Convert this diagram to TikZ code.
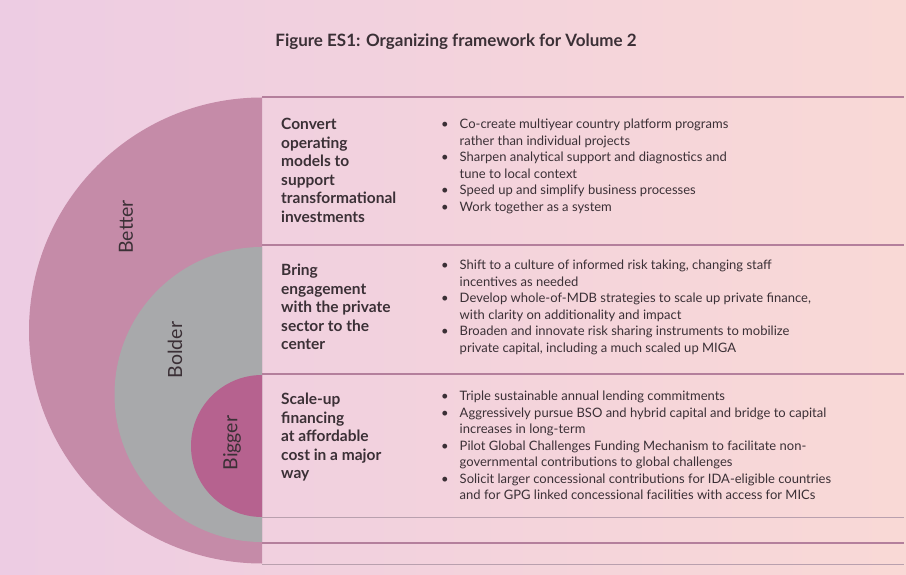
\documentclass[tikz,border=0pt]{standalone}
\usepackage{fontspec}
\setmainfont{Lato}
\definecolor{bgleft}{HTML}{EDCCE3}
\definecolor{bgright}{HTML}{F9D9D6}
\definecolor{better}{HTML}{C58BA8}
\definecolor{bolder}{HTML}{A8A9AB}
\definecolor{bigger}{HTML}{B6628F}
\definecolor{rule}{HTML}{B47F9C}
\definecolor{rulegray}{HTML}{B9A0AE}
\definecolor{ink}{HTML}{3B3036}
\begin{document}
\begin{tikzpicture}[x=1pt,y=-1pt,
    heading/.style={anchor=north west,align=left,text=ink,inner sep=0pt,font=\fontsize{15.5}{18.5}\selectfont\bfseries},
    points/.style={anchor=north west,text=ink,inner sep=0pt,font=\fontsize{13}{16.5}\selectfont},
    ring/.style={text=ink,rotate=90,font=\fontsize{19.5}{22}\selectfont}]
        \shade[left color=bgleft, right color=bgright] (0,0) rectangle (906,575);
        \node[text=ink,font=\fontsize{17}{20}\selectfont\bfseries] (title) at (456,42) {Figure ES1: Organizing framework for Volume 2};
		% half discs
		\fill[better] (262,97.5) arc[start angle=270, end angle=90, radius=233] -- cycle;
		\fill[bolder] (262,247) arc[start angle=270, end angle=90, radius=147.5] -- cycle;
		\fill[bigger] (262,375) arc[start angle=270, end angle=90, radius=71] -- cycle;
		% row rules
		\draw[rule, line width=1.4pt] (262,97) -- (904,97);
		\draw[rule, line width=1.2pt] (262,245) -- (904,245);
		\draw[rule, line width=1.2pt] (262,374) -- (904,374);
		\draw[rulegray, line width=0.9pt] (262,517) -- (904,517);
		\draw[rule, line width=1.2pt] (262,543) -- (904,543);
		\draw[rulegray, line width=0.9pt] (262,564) -- (904,564);
		\node[ring] (better) at (126,227) {Better};
		\node[ring] (bolder) at (175,350) {Bolder};
		\node[ring] (bigger) at (232,443) {Bigger};
		\node[heading] (convert) at (281,118) {Convert\\operating\\models to\\support\\transformational\\investments};
		\node[heading] (bring) at (281,264) {Bring\\engagement\\with the private\\sector to the\\center};
		\node[heading] (scale) at (281,393) {Scale-up\\financing\\at affordable\\cost in a major\\way};
		\node[points] (convertpts) at (441,117) {\begin{tabular}{@{}l@{\hspace{11pt}}l@{}}
		\textbullet & Co-create multiyear country platform programs\\
		 & rather than individual projects\\
		\textbullet & Sharpen analytical support and diagnostics and\\
		 & tune to local context\\
		\textbullet & Speed up and simplify business processes\\
		\textbullet & Work together as a system
		\end{tabular}};
		\node[points] (bringpts) at (441,258) {\begin{tabular}{@{}l@{\hspace{11pt}}l@{}}
		\textbullet & Shift to a culture of informed risk taking, changing staff\\
		 & incentives as needed\\
		\textbullet & Develop whole-of-MDB strategies to scale up private finance,\\
		 & with clarity on additionality and impact\\
		\textbullet & Broaden and innovate risk sharing instruments to mobilize\\
		 & private capital, including a much scaled up MIGA
		\end{tabular}};
		\node[points] (scalepts) at (441,389) {\begin{tabular}{@{}l@{\hspace{11pt}}l@{}}
		\textbullet & Triple sustainable annual lending commitments\\
		\textbullet & Aggressively pursue BSO and hybrid capital and bridge to capital\\
		 & increases in long-term\\
		\textbullet & Pilot Global Challenges Funding Mechanism to facilitate non-\\
		 & governmental contributions to global challenges\\
		\textbullet & Solicit larger concessional contributions for IDA-eligible countries\\
		 & and for GPG linked concessional facilities with access for MICs
		\end{tabular}};
\end{tikzpicture}
\end{document}
